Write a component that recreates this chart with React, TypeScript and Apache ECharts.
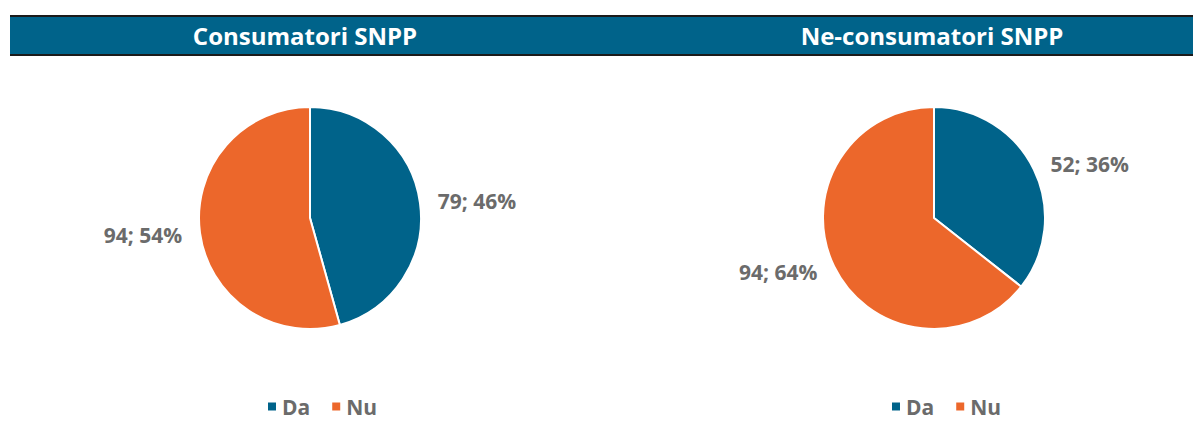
import React, { useEffect, useRef } from "react";
import * as echarts from "echarts";

const categories = ["Da", "Nu"];
const consumatoriValues = [79, 94];
const consumatoriPercents = [46, 54];
const neConsumatoriValues = [52, 94];
const neConsumatoriPercents = [36, 64];
const titles = ["Consumatori SNPP", "Ne-consumatori SNPP"];

const BLUE = "#00638A";
const ORANGE = "#EC672B";
const GRAY = "#6B6B6B";

function makeData(values: number[], percents: number[]) {
  return categories.map((name, i) => ({
    name,
    value: values[i],
    pct: percents[i],
  }));
}

export default function App() {
  const ref = useRef<HTMLDivElement>(null);
  useEffect(() => {
    if (!ref.current) return;
    const chart = echarts.init(ref.current, undefined, { renderer: "svg" });
    const labelCfg = {
      show: true,
      position: "outside",
      formatter: (p: any) => `${p.data.value}; ${p.data.pct}%`,
      color: GRAY,
      fontSize: 21,
      fontWeight: "bold",
      fontFamily: "Open Sans",
    };
    const pieCommon = {
      type: "pie",
      radius: 111,
      startAngle: 90,
      clockwise: true,
      avoidLabelOverlap: false,
      itemStyle: { borderColor: "#ffffff", borderWidth: 2 },
      label: labelCfg,
      labelLine: { show: false, length: 13, length2: 0 },
      emphasis: { disabled: true },
    };
    const legendCommon = {
      data: categories,
      icon: "rect",
      itemWidth: 10,
      itemHeight: 10,
      itemGap: 20,
      top: 391,
      textStyle: {
        color: GRAY,
        fontSize: 21,
        fontWeight: "bold",
        fontFamily: "Open Sans",
      },
      selectedMode: false,
    };
    const titleStyle = {
      color: "#ffffff",
      fontSize: 24,
      fontWeight: "bold",
      fontFamily: "Open Sans",
    };
    chart.setOption({
      animation: false,
      color: [BLUE, ORANGE],
      graphic: [
        {
          type: "rect",
          shape: { x: 10, y: 16, width: 1183, height: 39 },
          style: { fill: BLUE },
          z: 0,
        },
        {
          type: "line",
          shape: { x1: 10, y1: 16, x2: 1193, y2: 16 },
          style: { stroke: "#1b1b1b", lineWidth: 2 },
        },
        {
          type: "line",
          shape: { x1: 10, y1: 55, x2: 1193, y2: 55 },
          style: { stroke: "#1b1b1b", lineWidth: 2 },
        },
      ],
      title: [
        { text: titles[0], left: 300, top: 18, textAlign: "center", textStyle: titleStyle, z: 10 },
        { text: titles[1], left: 927, top: 18, textAlign: "center", textStyle: titleStyle, z: 10 },
      ],
      legend: [
        { ...legendCommon, left: 261 },
        { ...legendCommon, left: 885 },
      ],
      series: [
        {
          ...pieCommon,
          name: titles[0],
          center: [310, 218],
          data: makeData(consumatoriValues, consumatoriPercents),
        },
        {
          ...pieCommon,
          name: titles[1],
          center: [934, 218],
          data: makeData(neConsumatoriValues, neConsumatoriPercents),
        },
      ],
    });
    return () => chart.dispose();
  }, []);
  return (
    <div
      ref={ref}
      style={{ position: "fixed", left: 0, top: 0, width: 1193, height: 439, background: "#fff" }}
    />
  );
}
